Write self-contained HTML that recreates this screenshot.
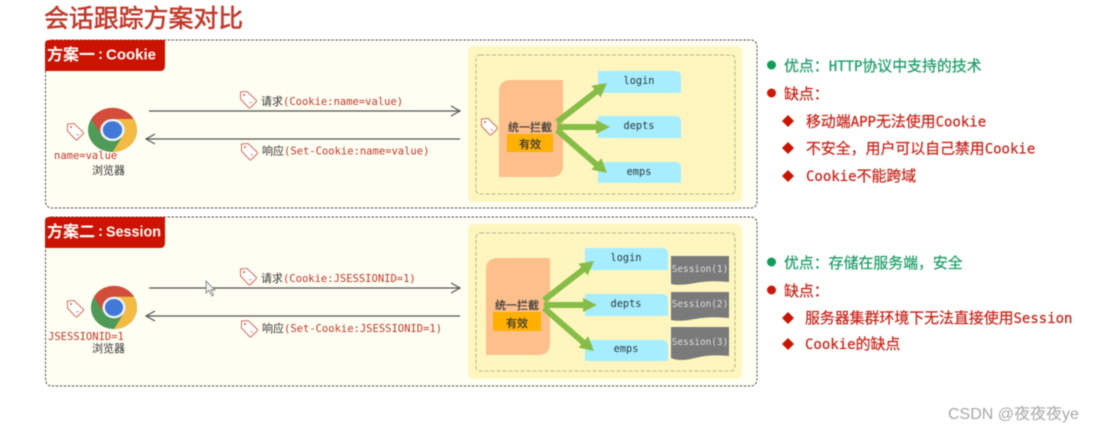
<!DOCTYPE html>
<html lang="zh">
<head>
<meta charset="utf-8">
<style>
html,body{margin:0;padding:0;background:#fff;width:1093px;height:432px;overflow:hidden}
svg{display:block;filter:blur(.4px)}
text{font-family:"Liberation Sans","Noto Sans CJK SC",sans-serif}
.m{font-family:"DejaVu Sans Mono","Noto Sans CJK SC",monospace;font-size:10.5px}
.r{fill:#c0392b}
.c{font-family:"Noto Sans CJK SC",sans-serif;font-size:11px;fill:#333}
.b{font-family:"DejaVu Sans Mono","Noto Sans CJK SC",monospace;font-size:14px}
.b tspan.z{font-family:"Noto Sans CJK SC",sans-serif;font-size:14.9px}
.g{fill:#1f9e6b;stroke:#1f9e6b;stroke-width:.25px}
.d{fill:#c8281e;stroke:#c8281e;stroke-width:.25px}
.tab{font-family:"Liberation Sans","Noto Sans CJK SC",sans-serif;font-size:15px;font-weight:700;fill:#fff}
.tz{font-family:"Noto Sans CJK SC",sans-serif;font-size:16px;font-weight:700;fill:#fff}
.ep{font-family:"DejaVu Sans Mono",monospace;font-size:10.3px;fill:#2b3b3b;text-anchor:middle}
.s{font-family:"DejaVu Sans Mono",monospace;font-size:9.4px;fill:#ddd;text-anchor:middle}
</style>
</head>
<body>
<svg width="1093" height="432" viewBox="0 0 1093 432" xmlns="http://www.w3.org/2000/svg">
<defs>
<g id="tag">
  <path d="M0.5 1 L7 0.5 L16 9 Q17 10 16 11 L10.5 16.5 Q9.5 17.5 8.5 16.5 L0.5 8 Z" fill="#fff" stroke="#d0705c" stroke-width="1"/>
  <circle cx="4" cy="4" r="1" fill="#c9604a"/>
  <path d="M9 12 l2-1 M11 13 l1-2" stroke="#d99" stroke-width=".7"/>
</g>
<g id="chrome">
  <circle cx="0" cy="0" r="24" fill="#4f9a57"/>
  <path d="M-20.8 -12 A24 24 0 0 1 20.8 -12 L0 -12 A12 12 0 0 0 -10.4 -6 L-20.8 -12 Z M-20.8 -12 L-10.4 6 L-10.4 -6 Z" fill="#d44c3a"/>
  <path d="M20.8 -12 A24 24 0 0 1 0 24 L10.4 6 A12 12 0 0 0 10.4 -6 L0 -12 Z" fill="#f3bb44"/>
  <circle cx="0" cy="0" r="12" fill="#f2f4f5"/>
  <circle cx="0" cy="0" r="9.500" fill="#4179d8"/>
</g>
<g id="arrows">
  <g stroke="#86bd47" stroke-width="6" fill="none">
    <line x1="557" y1="122" x2="597" y2="91"/>
    <line x1="557" y1="127" x2="597" y2="127"/>
    <line x1="557" y1="130" x2="597" y2="165"/>
  </g>
  <g fill="#86bd47">
    <path d="M607 83 L600.600 97.500 L591.400 85.700 Z"/>
    <path d="M610 127 L596 120 L596 134 Z"/>
    <path d="M607 173 L601.300 158.200 L591.500 169.600 Z"/>
  </g>
</g>
</defs>

<text x="44" y="27" font-size="24.9" fill="#c0392b" stroke="#c0392b" stroke-width=".6" style="font-family:'Noto Sans CJK SC',sans-serif">会话跟踪方案对比</text>

<!-- Box 1 -->
<rect x="45.500" y="40" width="711.500" height="168" rx="6" fill="#fffef3" stroke="#555" stroke-width="1" stroke-dasharray="2.500 1.500"/>
<path d="M45 71 V44 Q45 40 49 40 H165 V66 Q165 71 160 71 Z" fill="#cc1200"/>
<text class="tz" x="47" y="60" textLength="48" lengthAdjust="spacingAndGlyphs">方案一</text>
<text class="tab" x="98" y="59">:</text>
<text class="tab" x="106" y="59.500" textLength="50" lengthAdjust="spacingAndGlyphs">Cookie</text>

<line x1="149" y1="111" x2="460" y2="111" stroke="#555" stroke-width="1.200"/>
<path d="M451 106 L460 111 L451 116" fill="none" stroke="#555" stroke-width="1.200"/>
<line x1="146" y1="139" x2="460" y2="139" stroke="#555" stroke-width="1.200"/>
<path d="M155 134 L146 139 L155 144" fill="none" stroke="#555" stroke-width="1.200"/>
<use href="#tag" x="240" y="91"/>
<text x="261" y="105" class="c">请求</text><text x="283" y="105" class="m r">(Cookie:name=value)</text>
<use href="#tag" x="241" y="143"/>
<text x="262" y="154.500" class="c">响应</text><text x="284" y="154.500" class="m r">(Set-Cookie:name=value)</text>
<g transform="translate(112.500 130) scale(1.020 .92)"><use href="#chrome"/></g>
<use href="#tag" x="67" y="123"/>
<text x="54" y="159" class="m r">name=value</text>
<text x="92" y="174" class="c">浏览器</text>

<rect x="468" y="46" width="274" height="156" rx="6" fill="#fff6bf"/>
<rect x="476" y="55" width="259" height="139" rx="4" fill="none" stroke="#b8b48c" stroke-width="1" stroke-dasharray="4 2"/>
<path d="M499 92 Q499 80 511 80 H563 V165 Q563 177 551 177 H499 Z" fill="#fdbf8c"/>
<use href="#tag" x="481" y="118"/>
<text x="508" y="131" class="c" stroke="#333" stroke-width=".2">统一拦截</text>
<rect x="507" y="134" width="46" height="18" fill="#ffb000"/>
<text x="530" y="148" class="c" text-anchor="middle" stroke="#333" stroke-width=".2">有效</text>
<path d="M598 71 H675 Q681 71 681 77 V93 H598 Z" fill="#a6edff"/>
<path d="M598 116 H675 Q681 116 681 122 V138 H598 Z" fill="#a6edff"/>
<path d="M598 162 H675 Q681 162 681 168 V183 H598 Z" fill="#a6edff"/>
<text class="ep" x="639" y="84">login</text>
<text class="ep" x="639" y="129">depts</text>
<text class="ep" x="639" y="175">emps</text>
<use href="#arrows"/>

<!-- Box 2 -->
<rect x="45.500" y="217" width="711.500" height="169" rx="6" fill="#fffef3" stroke="#555" stroke-width="1" stroke-dasharray="2.500 1.500"/>
<path d="M45 248 V221 Q45 217 49 217 H165 V243 Q165 248 160 248 Z" fill="#cc1200"/>
<text class="tz" x="47" y="237" textLength="48" lengthAdjust="spacingAndGlyphs">方案二</text>
<text class="tab" x="98" y="236">:</text>
<text class="tab" x="106" y="236.500" textLength="55" lengthAdjust="spacingAndGlyphs">Session</text>

<line x1="149" y1="288" x2="460" y2="288" stroke="#555" stroke-width="1.200"/>
<path d="M451 283 L460 288 L451 293" fill="none" stroke="#555" stroke-width="1.200"/>
<line x1="146" y1="316" x2="460" y2="316" stroke="#555" stroke-width="1.200"/>
<path d="M155 311 L146 316 L155 321" fill="none" stroke="#555" stroke-width="1.200"/>
<path d="M206 281 V293 L209 290.500 L212 296 L213.500 295 L211 290 H215 Z" fill="#eee" stroke="#666" stroke-width=".7"/>
<use href="#tag" x="240" y="268"/>
<text x="261" y="282" class="c">请求</text><text x="283" y="282" class="m r">(Cookie:JSESSIONID=1)</text>
<use href="#tag" x="241" y="320"/>
<text x="262" y="332" class="c">响应</text><text x="284" y="332" class="m r">(Set-Cookie:JSESSIONID=1)</text>
<g transform="translate(114 307.500) scale(.96 .9)"><use href="#chrome"/></g>
<use href="#tag" x="67" y="300"/>
<text x="48" y="340" class="m r">JSESSIONID=1</text>
<text x="92" y="352" class="c">浏览器</text>

<rect x="468" y="224" width="274" height="155" rx="6" fill="#fff6bf"/>
<rect x="476" y="233" width="259" height="138" rx="4" fill="none" stroke="#b8b48c" stroke-width="1" stroke-dasharray="4 2"/>
<path d="M486 270 Q486 258 498 258 H550 V343 Q550 355 538 355 H486 Z" fill="#fdbf8c"/>
<text x="495" y="309" class="c" stroke="#333" stroke-width=".2">统一拦截</text>
<rect x="493" y="312" width="48" height="19" fill="#ffb000"/>
<text x="517" y="327" class="c" text-anchor="middle" stroke="#333" stroke-width=".2">有效</text>
<path d="M585 248 H662 Q668 248 668 254 V270 H585 Z" fill="#a6edff"/>
<path d="M585 294 H662 Q668 294 668 300 V316 H585 Z" fill="#a6edff"/>
<path d="M585 340 H662 Q668 340 668 346 V361 H585 Z" fill="#a6edff"/>
<text class="ep" x="626" y="261">login</text>
<text class="ep" x="626" y="307">depts</text>
<text class="ep" x="626" y="352">emps</text>
<use href="#arrows" x="-13" y="178"/>
<g fill="#7a7a7a">
  <path d="M671 256 H729 V282 Q710 280 695 283 T671 284 Z"/>
  <path d="M671 292 H729 V318 Q710 316 695 319 T671 320 Z"/>
  <path d="M671 327 H729 V356 Q710 354 695 358 T671 358 Z"/>
</g>
<text class="s" x="700" y="272">Session(1)</text>
<text class="s" x="700" y="307">Session(2)</text>
<text class="s" x="700" y="345">Session(3)</text>

<!-- Right list 1 -->
<circle cx="771.500" cy="65" r="4.500" fill="#0f9d58"/>
<text class="b g" x="784" y="71"><tspan class="z">优点：</tspan>HTTP<tspan class="z">协议中支持的技术</tspan></text>
<circle cx="771.500" cy="93" r="4.500" fill="#cc1a0a"/>
<text class="b d" x="784" y="99"><tspan class="z">缺点：</tspan></text>
<path d="M788 115 L794 121 L788 127 L782 121 Z" fill="#c81400"/>
<text class="b d" x="806" y="126.500"><tspan class="z">移动端</tspan>APP<tspan class="z">无法使用</tspan>Cookie</text>
<path d="M788 142 L794 148 L788 154 L782 148 Z" fill="#c81400"/>
<text class="b d" x="806" y="153.500"><tspan class="z">不安全，用户可以自己禁用</tspan>Cookie</text>
<path d="M788 170 L794 176 L788 182 L782 176 Z" fill="#c81400"/>
<text class="b d" x="806" y="181">Cookie<tspan class="z">不能跨域</tspan></text>

<!-- Right list 2 -->
<circle cx="771.500" cy="262" r="4.500" fill="#0f9d58"/>
<text class="b g" x="784" y="268"><tspan class="z">优点：存储在服务端，安全</tspan></text>
<circle cx="771.500" cy="290" r="4.500" fill="#cc1a0a"/>
<text class="b d" x="784" y="296"><tspan class="z">缺点：</tspan></text>
<path d="M788 312 L794 318 L788 324 L782 318 Z" fill="#c81400"/>
<text class="b d" x="805" y="323"><tspan class="z">服务器集群环境下无法直接使用</tspan>Session</text>
<path d="M788 338 L794 344 L788 350 L782 344 Z" fill="#c81400"/>
<text class="b d" x="805" y="349"><tspan>Cookie</tspan><tspan class="z">的缺点</tspan></text>

<text x="948" y="419" font-size="16" fill="#a8a8a8">CSDN @夜夜夜ye</text>
</svg>
</body>
</html>
